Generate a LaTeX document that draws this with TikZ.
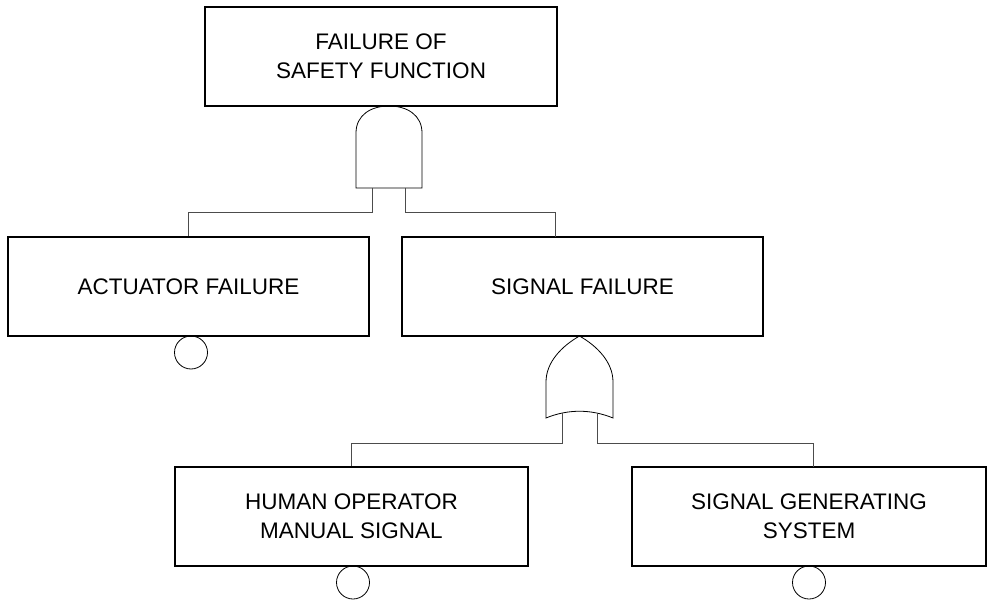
\documentclass[tikz,border=0pt]{standalone}
\usepackage{fontspec}
\setmainfont{Liberation Sans}
\begin{document}
\begin{tikzpicture}[x=1pt,y=-1pt,
  box/.style={draw=black, line width=1.3pt, inner sep=0pt, align=center, minimum height=99pt, font=\fontsize{22.5}{29}\selectfont},
  wire/.style={draw=black!70, line width=1pt},
  gate/.style={draw=black, line width=0.8pt},
  basic/.style={draw=black, line width=0.8pt, circle, minimum size=33pt, inner sep=0pt}]
\useasboundingbox (0,0) rectangle (987,601);

% events
\node[box, minimum width=352pt] (top) at (381,56.5) {FAILURE OF\\SAFETY FUNCTION};
\node[box, minimum width=361pt] (act) at (188.5,286.5) {ACTUATOR FAILURE};
\node[box, minimum width=361pt] (sig) at (582.5,286.5) {SIGNAL FAILURE};
\node[box, minimum width=353pt] (hum) at (351.5,516.5) {HUMAN OPERATOR\\MANUAL SIGNAL};
\node[box, minimum width=354pt] (gen) at (809,516.5) {SIGNAL GENERATING\\SYSTEM};

% basic event circles
\node[basic] (actE) at (191,352.5) {};
\node[basic] (humE) at (353,582.5) {};
\node[basic] (genE) at (809,582.5) {};

% AND gate
\draw[gate] (356,188) -- (356,133) .. controls (356,115) and (371,106) .. (389,106)
  .. controls (407,106) and (422,115) .. (422,133) -- (422,188) -- cycle;
\coordinate (andL) at (372,188);
\coordinate (andR) at (405,188);
\coordinate (sigIn) at (555,237);

% OR gate
\draw[gate] (546,418) -- (546,382) .. controls (546,362) and (562,346) .. (579.5,336)
  .. controls (597,346) and (613,362) .. (613,382) -- (613,418)
  .. controls (591,409) and (568,409) .. (546,418) -- cycle;
\coordinate (orL) at (562,413);
\coordinate (orR) at (597,413);
\coordinate (genIn) at (813,467);

% connectors
\draw[wire] (andL) -- ++(0,25) -| (act.north);
\draw[wire] (andR) -- ++(0,25) -| (sigIn);
\draw[wire] (orL) -- ++(0,30) -| (hum.north);
\draw[wire] (orR) -- ++(0,30) -| (genIn);
\end{tikzpicture}
\end{document}
